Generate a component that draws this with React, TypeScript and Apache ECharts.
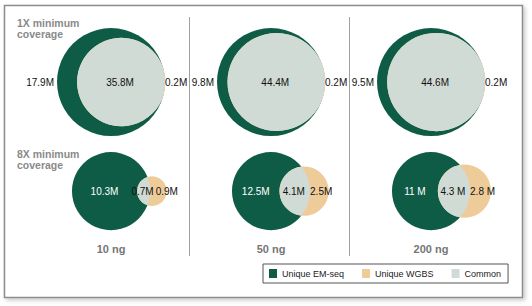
import { useEffect, useRef } from "react";
import * as echarts from "echarts";

// ---- data ----
const panels = ["10 ng", "50 ng", "200 ng"];
const rowTitles = ["1X minimum\ncoverage", "8X minimum\ncoverage"];
const setNames = ["Unique EM-seq", "Unique WGBS", "Common"];

const uniqueEmSeq1X = [17.9, 9.8, 9.5];
const common1X = [35.8, 44.4, 44.6];
const uniqueWgbs1X = [0.2, 0.2, 0.2];
const unitSuffix1X = ["M", "M", "M"];

const uniqueEmSeq8X = [10.3, 12.5, 11];
const common8X = [0.7, 4.1, 4.3];
const uniqueWgbs8X = [0.9, 2.5, 2.8];
const unitSuffix8X = ["M", "M", " M"];

// ---- styles / layout ----
const GREEN = "#0e5c46";
const TAN = "#eecc9a";
const COMMON = "#d0dbd5";
const FONT = '"Liberation Sans", Arial, Helvetica, sans-serif';
const Y_MAX = 1.93;
const ROW_RADIUS_FRAC = [0.495, 0.358];

const rowsData = [
  { em: uniqueEmSeq1X, cm: common1X, wg: uniqueWgbs1X, suf: unitSuffix1X },
  { em: uniqueEmSeq8X, cm: common8X, wg: uniqueWgbs8X, suf: unitSuffix8X },
];

const seriesData: any[] = [];
rowsData.forEach((r, ri) => {
  panels.forEach((_, pi) => {
    seriesData.push([pi, ri + 0.5, r.em[pi], r.cm[pi], r.wg[pi], ri]);
  });
});

let measureCtx: CanvasRenderingContext2D | null = null;
function textWidth(t: string, font: string) {
  if (!measureCtx) measureCtx = document.createElement("canvas").getContext("2d");
  if (!measureCtx) return t.length * 5.6;
  measureCtx.font = font;
  return measureCtx.measureText(t).width;
}

function geom(params: any, api: any) {
  const pi = api.value(0);
  const ry = api.value(1);
  const em = api.value(2);
  const cm = api.value(3);
  const wg = api.value(4);
  const row = api.value(5);
  const cs = params.coordSys;
  const unit = cs.height / Y_MAX;
  const [cx, cy] = api.coord([pi, ry]);
  const eT = em + cm;
  const wT = wg + cm;
  const rG = ROW_RADIUS_FRAC[row] * unit;
  const rW = rG * Math.sqrt(wT / eT);
  const t = (2 * rW * wg) / wT;
  const d = rG + t - rW;
  const wx = cx + d;
  const a = (d * d + rG * rG - rW * rW) / (2 * d);
  const h = Math.sqrt(Math.max(0, rG * rG - a * a));
  return { pi, row, em, cm, wg, cx, cy, rG, rW, wx, a, h, d, cs };
}

function fmt(v: number, row: number, pi: number) {
  return String(v) + rowsData[row].suf[pi];
}

export default function App() {
  const ref = useRef<HTMLDivElement>(null);
  useEffect(() => {
    if (!ref.current) return;
    const chart = echarts.init(ref.current, null, { renderer: "svg" });
    const labelFont = `10px ${FONT}`;

    const option: any = {
      animation: false,
      backgroundColor: "#ffffff",
      grid: { left: 31, right: 21, top: 27.5, bottom: 68 },
      xAxis: {
        type: "category",
        data: panels,
        axisLine: { show: false },
        axisTick: { show: false },
        splitLine: { show: false },
        axisLabel: {
          color: "#767676",
          fontSize: 11,
          fontWeight: "bold",
          fontFamily: FONT,
          margin: 5,
        },
      },
      yAxis: {
        type: "value",
        min: 0,
        max: Y_MAX,
        inverse: true,
        show: false,
      },
      legend: {
        data: setNames,
        left: 263,
        top: 264,
        icon: "rect",
        itemWidth: 8,
        itemHeight: 9,
        itemGap: 18,
        padding: [5, 7, 5, 6],
        borderColor: "#555555",
        borderWidth: 1,
        selectedMode: false,
        textStyle: { fontSize: 9, color: "#222222", fontFamily: FONT },
      },
      graphic: [
        {
          type: "rect",
          z: -5,
          shape: { x: 4.5, y: 5.5, width: 518, height: 292 },
          style: {
            fill: "#ffffff",
            stroke: "#8c8c8c",
            lineWidth: 1.5,
            shadowBlur: 4,
            shadowOffsetX: 2,
            shadowOffsetY: 2,
            shadowColor: "rgba(0,0,0,0.22)",
          },
        },
        ...rowTitles.map((txt, i) => ({
          type: "text",
          left: 17,
          top: i === 0 ? 17 : 148,
          style: {
            text: txt,
            fill: "#8a8a8a",
            font: `bold 10.5px ${FONT}`,
            lineHeight: 11.5,
          },
        })),
      ],
      series: [
        {
          name: setNames[0],
          type: "custom",
          itemStyle: { color: GREEN },
          encode: { x: 0, y: 1 },
          data: seriesData,
          renderItem: (params: any, api: any) => {
            const g = geom(params, api);
            const children: any[] = [];
            if (g.row === 0 && g.pi > 0) {
              const bw = g.cs.width / panels.length;
              const x = Math.round(g.cx - bw / 2 - 2) + 0.5;
              children.push({
                type: "line",
                shape: { x1: x, y1: g.cs.y - 10.5, x2: x, y2: g.cs.y + g.cs.height + 18 },
                style: { stroke: "#a0a0a0", lineWidth: 1 },
              });
            }
            children.push({
              type: "circle",
              shape: { cx: g.cx, cy: g.cy, r: g.rG },
              style: { fill: GREEN },
            });
            return { type: "group", children };
          },
        },
        {
          name: setNames[1],
          type: "custom",
          itemStyle: { color: TAN },
          encode: { x: 0, y: 1 },
          data: seriesData,
          renderItem: (params: any, api: any) => {
            const g = geom(params, api);
            return {
              type: "circle",
              shape: { cx: g.wx, cy: g.cy, r: g.rW },
              style: { fill: TAN },
            };
          },
        },
        {
          name: setNames[2],
          type: "custom",
          itemStyle: { color: COMMON },
          encode: { x: 0, y: 1 },
          data: seriesData,
          renderItem: (params: any, api: any) => {
            const g = geom(params, api);
            const x1 = g.cx + g.a;
            const y1 = g.cy - g.h;
            const y2 = g.cy + g.h;
            const largeW = g.a - g.d > 0 ? 1 : 0;
            const largeG = g.a < 0 ? 1 : 0;
            const pathData = `M ${x1} ${y1} A ${g.rW} ${g.rW} 0 ${largeW} 0 ${x1} ${y2} A ${g.rG} ${g.rG} 0 ${largeG} 0 ${x1} ${y1} Z`;

            const gLeft = g.cx - g.rG;
            const gRight = g.cx + g.rG;
            const wLeft = g.wx - g.rW;
            const crescent = wLeft - gLeft;

            const emText = fmt(g.em, g.row, g.pi);
            const cmText = fmt(g.cm, g.row, g.pi);
            const wgText = fmt(g.wg, g.row, g.pi);

            const lensCenter = (Math.max(gLeft, wLeft) + gRight) / 2 - 1;
            const cmW = textWidth(cmText, labelFont);
            const wgLeft = Math.max(gRight, lensCenter + cmW / 2 + 2);

            const texts: any[] = [];
            if (crescent > 35) {
              texts.push({
                type: "text",
                x: (gLeft + wLeft) / 2,
                y: g.cy,
                style: { text: emText, fill: "#ffffff", font: labelFont, align: "center", verticalAlign: "middle" },
              });
            } else {
              texts.push({
                type: "text",
                x: gLeft - 3,
                y: g.cy,
                style: { text: emText, fill: "#111111", font: labelFont, align: "right", verticalAlign: "middle" },
              });
            }
            texts.push({
              type: "text",
              x: lensCenter,
              y: g.cy,
              style: { text: cmText, fill: "#111111", font: labelFont, align: "center", verticalAlign: "middle" },
            });
            texts.push({
              type: "text",
              x: wgLeft,
              y: g.cy,
              style: { text: wgText, fill: "#111111", font: labelFont, align: "left", verticalAlign: "middle" },
            });

            return {
              type: "group",
              children: [
                { type: "path", shape: { pathData }, style: { fill: COMMON } },
                ...texts,
              ],
            };
          },
        },
      ],
    };

    chart.setOption(option);
    return () => chart.dispose();
  }, []);

  return (
    <div
      ref={ref}
      style={{ position: "fixed", left: 0, top: 0, width: 532, height: 306, background: "#fff" }}
    />
  );
}
